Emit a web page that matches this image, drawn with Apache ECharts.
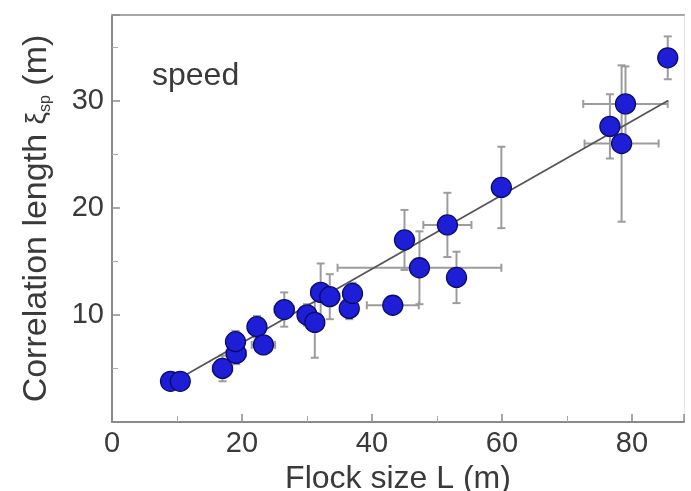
<!DOCTYPE html>
<html>
<head>
<meta charset="utf-8">
<script src="https://cdn.jsdelivr.net/npm/echarts@6/dist/echarts.min.js"></script>
<style>
  html, body { margin: 0; padding: 0; background: #fff; }
  #main { width: 691px; height: 491px; }
</style>
</head>
<body>
<div id="main"></div>
<script>
// flock size L (m) and correlation length (m)
var flockSize = [9.0, 10.5, 17.0, 19.1, 19.0, 22.3, 23.3, 26.5, 30.0, 31.2, 32.1, 33.5,
                 36.5, 37.0, 43.2, 45.0, 47.3, 51.6, 53.0, 59.9, 76.6, 78.4, 79.0, 85.5];
var corrLength = [3.8, 3.8, 5.0, 6.4, 7.5, 8.9, 7.2, 10.5, 10.0, 9.3, 12.1, 11.7,
                  10.6, 12.0, 10.9, 17.0, 14.4, 18.4, 13.5, 21.9, 27.6, 26.0, 29.7, 34.0];
// error bar half widths
var sizeErr = [0.8, 0.8, 1.5, 1.5, 1.0, 1.0, 1.8, 1.5, 1.0, 1.0, 1.5, 1.5,
               1.0, 1.0, 4.0, 1.0, 12.6, 3.7, 1.0, 0.5, 1.0, 5.7, 6.5, 0.5];
var lengthErr = [0.5, 0.5, 1.2, 1.0, 1.0, 1.0, 0.8, 1.6, 1.0, 3.3, 2.7, 2.1,
                 1.0, 1.0, 0.5, 2.8, 3.4, 3.0, 2.4, 3.8, 3.0, 7.3, 3.5, 2.0];
// linear fit
var fitX = [9, 85.5];
var fitY = [3.6, 30.0];

var xTicks = [0, 20, 40, 60, 80];
var yTicks = [10, 20, 30];

var points = flockSize.map(function (x, i) {
    return [x, corrLength[i], sizeErr[i], lengthErr[i]];
});
var fitLine = fitX.map(function (x, i) { return [x, fitY[i]]; });

var textColor = '#3a3a3a';
var barColor = '#9c9c9c';
var font = 'Liberation Sans, Arial, sans-serif';

var chart = echarts.init(document.getElementById('main'));

chart.setOption({
    animation: false,
    backgroundColor: '#fff',
    textStyle: { fontFamily: font },
    grid: { left: 112, top: 15, right: 7, bottom: 69, outerBoundsMode: 'none', containLabel: false },
    xAxis: [{
        type: 'value',
        min: 0, max: 88, interval: 20,
        name: 'Flock size L (m)',
        nameLocation: 'middle',
        nameGap: 35,
        nameTextStyle: { fontSize: 32, color: textColor },
        axisLine: { show: true, onZero: false, lineStyle: { color: '#8a8a8a', width: 2 } },
        axisTick: { inside: true, length: 8, lineStyle: { color: '#8a8a8a', width: 1.5 } },
        minorTick: { show: true, splitNumber: 2, length: 6, lineStyle: { color: '#aaa' } },
        axisLabel: { fontSize: 29, color: textColor, margin: 7,
            formatter: function (v) { return xTicks.indexOf(v) >= 0 ? v : ''; } },
        splitLine: { show: false }
    }, {
        type: 'value', position: 'top',
        min: 0, max: 88,
        axisLine: { show: true, onZero: false, lineStyle: { color: '#a8a8a8', width: 2 } },
        axisTick: { show: false }, axisLabel: { show: false }, splitLine: { show: false }
    }],
    yAxis: [{
        type: 'value',
        min: 0, max: 38, interval: 10,
        name: 'Correlation length {xi|ξ}{sub|sp} (m)',
        nameLocation: 'middle',
        nameGap: 58,
        nameTextStyle: {
            fontSize: 34, color: textColor,
            rich: {
                xi: { fontSize: 28, color: textColor },
                sub: { fontSize: 16, color: textColor, verticalAlign: 'bottom', padding: [12, 0, 0, 0] }
            }
        },
        axisLine: { show: true, onZero: false, lineStyle: { color: '#8a8a8a', width: 2 } },
        axisTick: { inside: true, length: 8, lineStyle: { color: '#8a8a8a', width: 1.5 } },
        minorTick: { show: true, splitNumber: 2, length: 6, lineStyle: { color: '#aaa' } },
        axisLabel: { fontSize: 29, color: textColor, margin: 8,
            formatter: function (v) { return yTicks.indexOf(v) >= 0 ? v : ''; } },
        splitLine: { show: false }
    }, {
        type: 'value', position: 'right',
        min: 0, max: 38,
        axisLine: { show: true, onZero: false, lineStyle: { color: '#e6e6e6', width: 1 } },
        axisTick: { show: false }, axisLabel: { show: false }, splitLine: { show: false }
    }],
    graphic: [{
        type: 'text',
        left: 152, top: 60,
        style: { text: 'speed', fontSize: 32, fill: textColor, fontFamily: font }
    }],
    series: [{
        // error bars
        type: 'custom',
        data: points,
        z: 2,
        renderItem: function (params, api) {
            var x = api.value(0), y = api.value(1), ex = api.value(2), ey = api.value(3);
            var top = api.coord([x, y + ey]);
            var bot = api.coord([x, y - ey]);
            var lft = api.coord([x - ex, y]);
            var rgt = api.coord([x + ex, y]);
            var cap = 4;
            var st = { stroke: barColor, lineWidth: 2 };
            return {
                type: 'group',
                children: [
                    { type: 'line', shape: { x1: top[0], y1: top[1], x2: bot[0], y2: bot[1] }, style: st },
                    { type: 'line', shape: { x1: top[0] - cap, y1: top[1], x2: top[0] + cap, y2: top[1] }, style: st },
                    { type: 'line', shape: { x1: bot[0] - cap, y1: bot[1], x2: bot[0] + cap, y2: bot[1] }, style: st },
                    { type: 'line', shape: { x1: lft[0], y1: lft[1], x2: rgt[0], y2: rgt[1] }, style: st },
                    { type: 'line', shape: { x1: lft[0], y1: lft[1] - cap, x2: lft[0], y2: lft[1] + cap }, style: st },
                    { type: 'line', shape: { x1: rgt[0], y1: rgt[1] - cap, x2: rgt[0], y2: rgt[1] + cap }, style: st }
                ]
            };
        }
    }, {
        // fit
        type: 'line',
        data: fitLine,
        z: 3,
        symbol: 'none',
        lineStyle: { color: '#555', width: 1.8 }
    }, {
        type: 'scatter',
        data: points,
        z: 4,
        symbolSize: 20,
        itemStyle: { color: '#1e1ed6', opacity: 1, borderColor: '#0b0b6e', borderWidth: 1.3 }
    }]
});
</script>
</body>
</html>
